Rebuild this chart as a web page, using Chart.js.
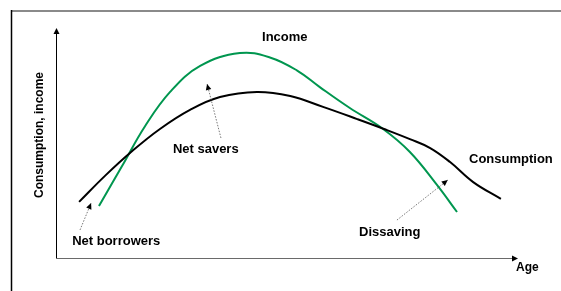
<!DOCTYPE html>
<html>
<head>
<meta charset="utf-8">
<script src="https://cdn.jsdelivr.net/npm/chart.js@4"></script>
<style>
    html, body { margin: 0; padding: 0; background: #fff; }
    #wrap { width: 561px; height: 291px; position: relative; }
</style>
</head>
<body>
<div id="wrap"><canvas id="lifecycle-chart"></canvas></div>
<script>
// life-cycle hypothesis sketch (age 0-100, amount 0-100)
const consumptionAge = [5, 10.6, 16.5, 22.5, 29, 35.5, 43.5, 50.7, 57.8, 65.2, 71, 76.6, 81, 85.3, 90.3, 96.3];
const consumptionValue = [24.4, 35.7, 46.5, 56.1, 64.4, 70, 72.2, 70.4, 65.7, 60.4, 56.1, 51.7, 47.8, 41.7, 33, 25.7];

const incomeAge = [9.3, 14.3, 19.3, 24.7, 31.2, 39.8, 46.3, 52.2, 57.1, 63.6, 70.8, 76.6, 82.5, 86.8];
const incomeValue = [22.6, 40, 57.4, 72.2, 83.5, 89.1, 87.2, 81.5, 74.3, 65.2, 56.1, 46.1, 31.7, 20];

const axisTitleX = "Age";
const axisTitleY = "Consumption, income";

// text labels and dotted pointers, in the same age/amount units
const notes = [
    { text: "Income", x: 44.6, y: 95.7 },
    { text: "Net savers", x: 25.3, y: 47.4, from: [35.7, 52.2], to: [32.7, 75.7] },
    { text: "Net borrowers", x: 3.5, y: 7.4, from: [5.2, 12.2], to: [7.6, 23.9] },
    { text: "Consumption", x: 89.4, y: 43.0 },
    { text: "Dissaving", x: 65.6, y: 11.3, from: [73.8, 16.5], to: [84.8, 33.9] },
];

function toPoints(xs, ys) {
    return xs.map((x, i) => ({ x, y: ys[i] }));
}

function arrowHead(ctx, x1, y1, x2, y2, len, half) {
    const a = Math.atan2(y2 - y1, x2 - x1);
    ctx.beginPath();
    ctx.moveTo(x2, y2);
    ctx.lineTo(x2 - len * Math.cos(a) + half * Math.sin(a), y2 - len * Math.sin(a) - half * Math.cos(a));
    ctx.lineTo(x2 - len * Math.cos(a) - half * Math.sin(a), y2 - len * Math.sin(a) + half * Math.cos(a));
    ctx.closePath();
    ctx.fill();
}

const sketchPlugin = {
    id: "sketch",
    beforeDatasetsDraw(chart) {
        const { ctx, chartArea: area } = chart;
        ctx.save();

        // outer frame (only top and left edges show)
        ctx.strokeStyle = "#8a8a8a";
        ctx.lineWidth = 2;
        ctx.beginPath();
        ctx.moveTo(11, 11);
        ctx.lineTo(561, 11);
        ctx.stroke();
        ctx.strokeStyle = "#000";
        ctx.lineWidth = 1.5;
        ctx.beginPath();
        ctx.moveTo(11.5, 10);
        ctx.lineTo(11.5, 291);
        ctx.stroke();

        // axes with arrows
        ctx.fillStyle = "#000";
        ctx.strokeStyle = "#000";
        ctx.lineWidth = 1;
        ctx.beginPath();
        ctx.moveTo(area.left + 0.5, area.bottom);
        ctx.lineTo(area.left + 0.5, area.top + 4);
        ctx.stroke();
        arrowHead(ctx, area.left + 0.5, area.bottom, area.left + 0.5, area.top, 6, 3);

        ctx.strokeStyle = "#6a6a6a";
        ctx.beginPath();
        ctx.moveTo(area.left, area.bottom + 0.5);
        ctx.lineTo(area.right - 4, area.bottom + 0.5);
        ctx.stroke();
        arrowHead(ctx, area.left, area.bottom + 0.5, area.right, area.bottom + 0.5, 6, 3);

        ctx.restore();
    },
    afterDatasetsDraw(chart) {
        const { ctx, chartArea: area, scales } = chart;
        const px = (v) => scales.x.getPixelForValue(v);
        const py = (v) => scales.y.getPixelForValue(v);

        ctx.save();
        ctx.fillStyle = "#000";
        ctx.textBaseline = "middle";
        ctx.font = "bold 13px 'Liberation Sans', Arial, sans-serif";

        notes.forEach((note) => {
            ctx.textAlign = "left";
            ctx.fillText(note.text, px(note.x), py(note.y));

            if (note.from) {
                const x1 = px(note.from[0]);
                const y1 = py(note.from[1]);
                const x2 = px(note.to[0]);
                const y2 = py(note.to[1]);
                ctx.strokeStyle = "#555";
                ctx.lineWidth = 0.8;
                ctx.setLineDash([1.5, 1.5]);
                ctx.beginPath();
                ctx.moveTo(x1, y1);
                ctx.lineTo(x2, y2);
                ctx.stroke();
                ctx.setLineDash([]);
                arrowHead(ctx, x1, y1, x2, y2, 6, 2.8);
            }
        });

        ctx.font = "bold 12px 'Liberation Sans', Arial, sans-serif";
        ctx.textAlign = "left";
        ctx.fillText(axisTitleX, area.right - 2, area.bottom + 10);

        ctx.translate(40, 135);
        ctx.rotate(-Math.PI / 2);
        ctx.textAlign = "center";
        ctx.fillText(axisTitleY, 0, 0);
        ctx.restore();
    },
};

new Chart(document.getElementById("lifecycle-chart"), {
    type: "line",
    data: {
        datasets: [
            {
                label: "Consumption",
                data: toPoints(consumptionAge, consumptionValue),
                borderColor: "#000000",
                borderWidth: 2,
                tension: 0.4,
                pointRadius: 0,
                fill: false,
            },
            {
                label: "Income",
                data: toPoints(incomeAge, incomeValue),
                borderColor: "#00964f",
                borderWidth: 2,
                tension: 0.4,
                pointRadius: 0,
                fill: false,
            },
        ],
    },
    options: {
        responsive: true,
        maintainAspectRatio: false,
        animation: false,
        layout: {
            padding: { left: 56, right: 43, top: 28, bottom: 33 },
        },
        plugins: {
            legend: { display: false },
            tooltip: { enabled: false },
        },
        scales: {
            x: { type: "linear", min: 0, max: 100, display: false },
            y: { min: 0, max: 100, display: false },
        },
    },
    plugins: [sketchPlugin],
});
</script>
</body>
</html>
